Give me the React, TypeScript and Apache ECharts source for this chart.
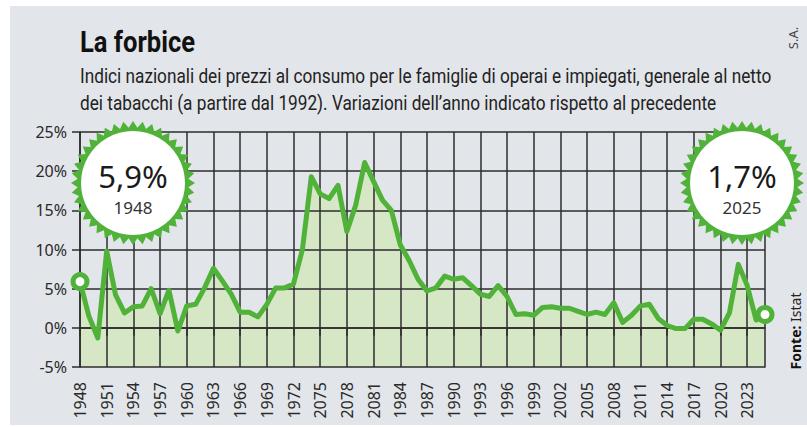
import React, { useEffect, useRef } from "react";
import * as echarts from "echarts";

const years: number[] = [];
for (let y = 1948; y <= 2025; y++) years.push(y);

const inflation: number[] = [
  5.9, 1.5, -1.3, 9.8, 4.2, 1.9, 2.7, 2.8, 5.0, 1.8,
  4.8, -0.4, 2.8, 3.0, 5.1, 7.6, 6.0, 4.3, 2.0, 2.0,
  1.4, 3.0, 5.1, 5.1, 5.6, 10.0, 19.3, 17.1, 16.5, 18.2,
  12.3, 15.7, 21.1, 18.7, 16.3, 15.0, 10.6, 8.6, 6.2, 4.7,
  5.1, 6.6, 6.2, 6.4, 5.4, 4.3, 4.0, 5.4, 4.0, 1.7,
  1.8, 1.6, 2.6, 2.7, 2.5, 2.5, 2.1, 1.7, 2.0, 1.7,
  3.2, 0.7, 1.6, 2.8, 3.0, 1.2, 0.3, -0.1, -0.1, 1.1,
  1.1, 0.5, -0.3, 1.9, 8.1, 5.4, 1.0, 1.7,
];

const tickLabels: string[] = [
  "1948", "1951", "1954", "1957", "1960", "1963", "1966", "1969", "1972",
  "2075", "2078", "2081", "1984", "1987", "1990", "1993", "1996", "1999",
  "2002", "2005", "2008", "2011", "2014", "2017", "2020", "2023",
];

const title = "La forbice";
const subtitle1 =
  "Indici nazionali dei prezzi al consumo per le famiglie di operai e impiegati, generale al netto";
const subtitle2 =
  "dei tabacchi (a partire dal 1992). Variazioni dell\u2019anno indicato rispetto al precedente";

const badges = [
  { value: "5,9%", year: "1948", cx: 133, cy: 183 },
  { value: "1,7%", year: "2025", cx: 742, cy: 183 },
];

const GREEN = "#50b238";
const AREA = "#d6e7c6";
const BG = "#e2e5e9";
const GRID = "#2c2c2c";
const FONT = "'Noto Sans', sans-serif";

function measure(font: string, text: string): number {
  const c = document.createElement("canvas").getContext("2d");
  if (!c) return 1;
  c.font = font;
  return c.measureText(text).width || 1;
}

function starPoints(teeth: number, rOut: number, rIn: number): number[][] {
  const pts: number[][] = [];
  for (let i = 0; i < teeth * 2; i++) {
    const r = i % 2 === 0 ? rOut : rIn;
    const a = (Math.PI * i) / teeth - Math.PI / 2;
    pts.push([Math.cos(a) * r, Math.sin(a) * r]);
  }
  return pts;
}

export default function App() {
  const ref = useRef<HTMLDivElement>(null);

  useEffect(() => {
    if (!ref.current) return;
    const chart = echarts.init(ref.current, null, { renderer: "svg" });
    const last = inflation.length - 1;

    const titleFont = `bold 30px Roboto`;
    const titleScale = 115 / measure(titleFont, title);
    const subFont = `21px Roboto`;
    const subScale = 692 / measure(subFont, subtitle1);

    const badgeGraphics = badges.map((b) => ({
      type: "group",
      x: b.cx,
      y: b.cy,
      z: 20,
      children: [
        {
          type: "polygon",
          shape: { points: starPoints(40, 62, 55.5) },
          style: { fill: GREEN },
          z: 20,
        },
        {
          type: "circle",
          shape: { cx: 0, cy: 0, r: 52 },
          style: { fill: "#ffffff" },
          z: 21,
        },
        {
          type: "text",
          x: 0,
          y: -7,
          z: 22,
          style: {
            text: b.value,
            font: `31px ${FONT}`,
            fill: "#1a1a1a",
            textAlign: "center",
            textVerticalAlign: "middle",
          },
        },
        {
          type: "text",
          x: 0,
          y: 24,
          z: 22,
          style: {
            text: b.year,
            font: `17px ${FONT}`,
            fill: "#333333",
            textAlign: "center",
            textVerticalAlign: "middle",
          },
        },
      ],
    }));

    chart.setOption({
      animation: false,
      backgroundColor: "#ffffff",
      grid: { left: 80, right: 42, top: 132, bottom: 60 },
      xAxis: {
        type: "category",
        data: years.map(String),
        boundaryGap: false,
        z: 2,
        axisLine: { show: true, lineStyle: { color: GRID, width: 1.5 } },
        axisTick: {
          show: true,
          interval: 2,
          length: 8,
          lineStyle: { color: GRID, width: 1.5 },
        },
        axisLabel: {
          interval: 2,
          rotate: 90,
          margin: 15,
          fontSize: 16,
          fontFamily: FONT,
          color: "#2a2a2a",
          formatter: (_v: string, idx: number) =>
            idx % 3 === 0 ? tickLabels[idx / 3] ?? "" : "",
        },
        splitLine: {
          show: true,
          interval: 2,
          lineStyle: { color: GRID, width: 1.5 },
        },
      },
      yAxis: [
        {
          type: "value",
          min: -5,
          max: 25,
          interval: 5,
          z: 2,
          axisLine: { show: true, lineStyle: { color: GRID, width: 1.5 } },
          axisTick: { show: true, length: 8, lineStyle: { color: GRID, width: 1.5 } },
          axisLabel: {
            margin: 13,
            fontSize: 16,
            fontFamily: FONT,
            color: "#2a2a2a",
            formatter: (v: number) => `${v}%`,
          },
          splitLine: { show: true, lineStyle: { color: GRID, width: 1.5 } },
        },
        {
          type: "value",
          position: "right",
          min: -5,
          max: 25,
          interval: 5,
          z: 2,
          axisLine: { show: true, lineStyle: { color: GRID, width: 1.5 } },
          axisTick: { show: false },
          axisLabel: { show: false },
          splitLine: { show: false },
        },
      ],
      series: [
        {
          type: "line",
          data: inflation,
          z: 1,
          symbol: "none",
          silent: true,
          lineStyle: { width: 0, opacity: 0 },
          areaStyle: { color: AREA, opacity: 1, origin: "start" },
        },
        {
          type: "line",
          data: inflation,
          z: 3,
          showSymbol: true,
          showAllSymbol: true,
          symbol: (_v: any, p: any) =>
            p.dataIndex === 0 || p.dataIndex === last ? "circle" : "none",
          symbolSize: 14,
          itemStyle: { color: "#ffffff", borderColor: GREEN, borderWidth: 5 },
          lineStyle: { color: GREEN, width: 5, join: "round" },
        },
      ],
      graphic: [
        {
          type: "rect",
          shape: { x: 10, y: 6, width: 797, height: 419 },
          style: { fill: BG },
          z: -10,
          silent: true,
        },
        {
          type: "text",
          x: 80,
          y: 42,
          scaleX: titleScale,
          z: 20,
          style: {
            text: title,
            font: titleFont,
            fill: "#111111",
            textAlign: "left",
            textVerticalAlign: "middle",
          },
        },
        {
          type: "text",
          x: 80,
          y: 76,
          scaleX: subScale,
          z: 20,
          style: {
            text: subtitle1,
            font: subFont,
            fill: "#222222",
            textAlign: "left",
            textVerticalAlign: "middle",
          },
        },
        {
          type: "text",
          x: 80,
          y: 103,
          scaleX: subScale,
          z: 20,
          style: {
            text: subtitle2,
            font: subFont,
            fill: "#222222",
            textAlign: "left",
            textVerticalAlign: "middle",
          },
        },
        {
          type: "text",
          x: 793,
          y: 38,
          rotation: Math.PI / 2,
          z: 20,
          style: {
            text: "S.A.",
            font: `13px ${FONT}`,
            fill: "#444444",
            textAlign: "center",
            textVerticalAlign: "middle",
          },
        },
        {
          type: "text",
          x: 795,
          y: 331,
          rotation: Math.PI / 2,
          z: 20,
          style: {
            text: "{b|Fonte:} Istat",
            font: `14px ${FONT}`,
            fill: "#222222",
            textAlign: "center",
            textVerticalAlign: "middle",
            rich: {
              b: { fontWeight: "bold", fontSize: 14, fontFamily: FONT, fill: "#111111" },
            },
          },
        },
        ...badgeGraphics,
      ],
    });

    return () => chart.dispose();
  }, []);

  return (
    <div
      ref={ref}
      style={{ position: "fixed", left: 0, top: 0, width: 807, height: 427 }}
    />
  );
}
